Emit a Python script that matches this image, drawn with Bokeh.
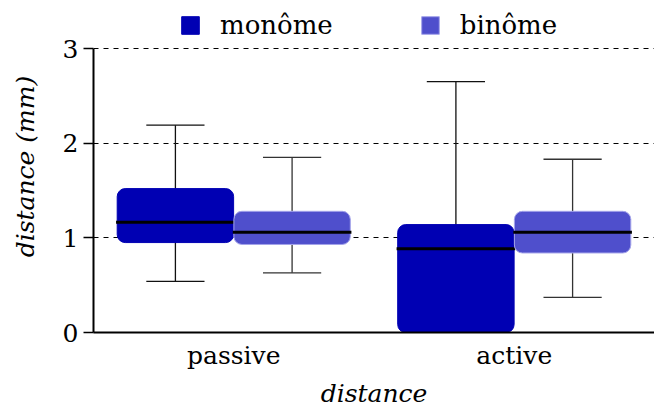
from bokeh.plotting import figure
from bokeh.models import FactorRange, Range1d, ColumnDataSource, Legend, LegendItem, FixedTicker
from bokeh.transform import dodge
from bokeh.embed import file_html
from bokeh.resources import INLINE

categories = ["passive", "active"]
series = ["monôme", "binôme"]
mono_low = [0.54, 0.0]
mono_q1 = [0.95, 0.0]
mono_med = [1.165, 0.885]
mono_q3 = [1.52, 1.14]
mono_high = [2.19, 2.65]
bino_low = [0.63, 0.37]
bino_q1 = [0.93, 0.84]
bino_med = [1.06, 1.06]
bino_q3 = [1.28, 1.28]
bino_high = [1.85, 1.83]
y_ticks = [0, 1, 2, 3]

colors = ["#0000b3", "#4f4fcc"]
edges = ["#0000b3", "#a4a4ea"]
whisk = ["#111111", "#333333"]
FONT = "DejaVu Serif"
FS = "25px"

# frame spans the full top of the figure; the value axis stops at 3
y_top = 3 * 332 / 284
p = figure(x_range=FactorRange(*categories, range_padding=0), y_range=Range1d(0, y_top),
           width=654, height=410, output_backend="svg", toolbar_location=None,
           min_border_left=93, min_border_right=0, min_border_top=0, min_border_bottom=78)
p.outline_line_color = None
p.background_fill_color = "white"

data = [
    dict(cat=categories, low=mono_low, q1=mono_q1, med=mono_med, q3=mono_q3, high=mono_high),
    dict(cat=categories, low=bino_low, q1=bino_q1, med=bino_med, q3=bino_q3, high=bino_high),
]
offsets = [-0.208, 0.208]
bw = 0.415
renderers = []
for i, d in enumerate(data):
    src = ColumnDataSource(d)
    off = offsets[i]
    p.segment(x0=dodge("cat", off, range=p.x_range), y0="low", x1=dodge("cat", off, range=p.x_range), y1="high",
              source=src, line_color=whisk[i], line_width=1.3)
    for key in ["low", "high"]:
        p.segment(x0=dodge("cat", off - bw / 4, range=p.x_range), y0=key,
                  x1=dodge("cat", off + bw / 4, range=p.x_range), y1=key,
                  source=src, line_color=whisk[i], line_width=1.3)
    r = p.vbar(x=dodge("cat", off, range=p.x_range), width=bw, bottom="q1", top="q3", source=src,
               fill_color=colors[i], line_color=edges[i], line_width=1, border_radius=8)
    renderers.append(r)
    p.segment(x0=dodge("cat", off - bw / 2 - 0.004, range=p.x_range), y0="med",
              x1=dodge("cat", off + bw / 2 + 0.004, range=p.x_range), y1="med",
              source=src, line_color="black", line_width=3)

legend = Legend(items=[LegendItem(label=series[i], renderers=[renderers[i]]) for i in range(2)],
                orientation="horizontal", location=(86, 292))
legend.label_text_font = FONT
legend.label_text_font_size = "26px"
legend.label_text_color = "black"
legend.glyph_width = 22
legend.glyph_height = 22
legend.label_height = 22
legend.spacing = 86
legend.label_standoff = 19
legend.border_line_color = None
legend.background_fill_alpha = 0
legend.padding = 2
legend.margin = 0
p.add_layout(legend, "center")

p.ygrid.ticker = FixedTicker(ticks=[1, 2, 3])
p.ygrid.grid_line_color = "black"
p.ygrid.grid_line_dash = "5 5"
p.ygrid.grid_line_width = 1
p.xgrid.grid_line_color = None

p.yaxis.ticker = FixedTicker(ticks=y_ticks)
p.yaxis.bounds = (0, 3)
p.yaxis.axis_line_width = 2
p.yaxis.major_tick_out = 10
p.yaxis.major_tick_in = 0
p.yaxis.major_tick_line_width = 1.5
p.yaxis.minor_tick_line_color = None
p.yaxis.major_label_text_font = FONT
p.yaxis.major_label_text_font_size = FS
p.yaxis.major_label_text_color = "black"
p.yaxis.axis_label = "distance (mm)"
p.yaxis.axis_label_text_font = FONT
p.yaxis.axis_label_text_font_style = "italic"
p.yaxis.axis_label_text_font_size = FS
p.yaxis.axis_label_text_color = "black"
p.yaxis.axis_label_standoff = 20

p.xaxis.axis_line_width = 2
p.xaxis.major_tick_out = 0
p.xaxis.major_tick_in = 0
p.xaxis.major_label_standoff = 8
p.xaxis.major_label_text_font = FONT
p.xaxis.major_label_text_font_size = FS
p.xaxis.major_label_text_color = "black"
p.xaxis.axis_label = "distance"
p.xaxis.axis_label_text_font = FONT
p.xaxis.axis_label_text_font_style = "italic"
p.xaxis.axis_label_text_font_size = FS
p.xaxis.axis_label_text_color = "black"
p.xaxis.axis_label_standoff = 6

open("out.html", "w").write(file_html(p, INLINE))
